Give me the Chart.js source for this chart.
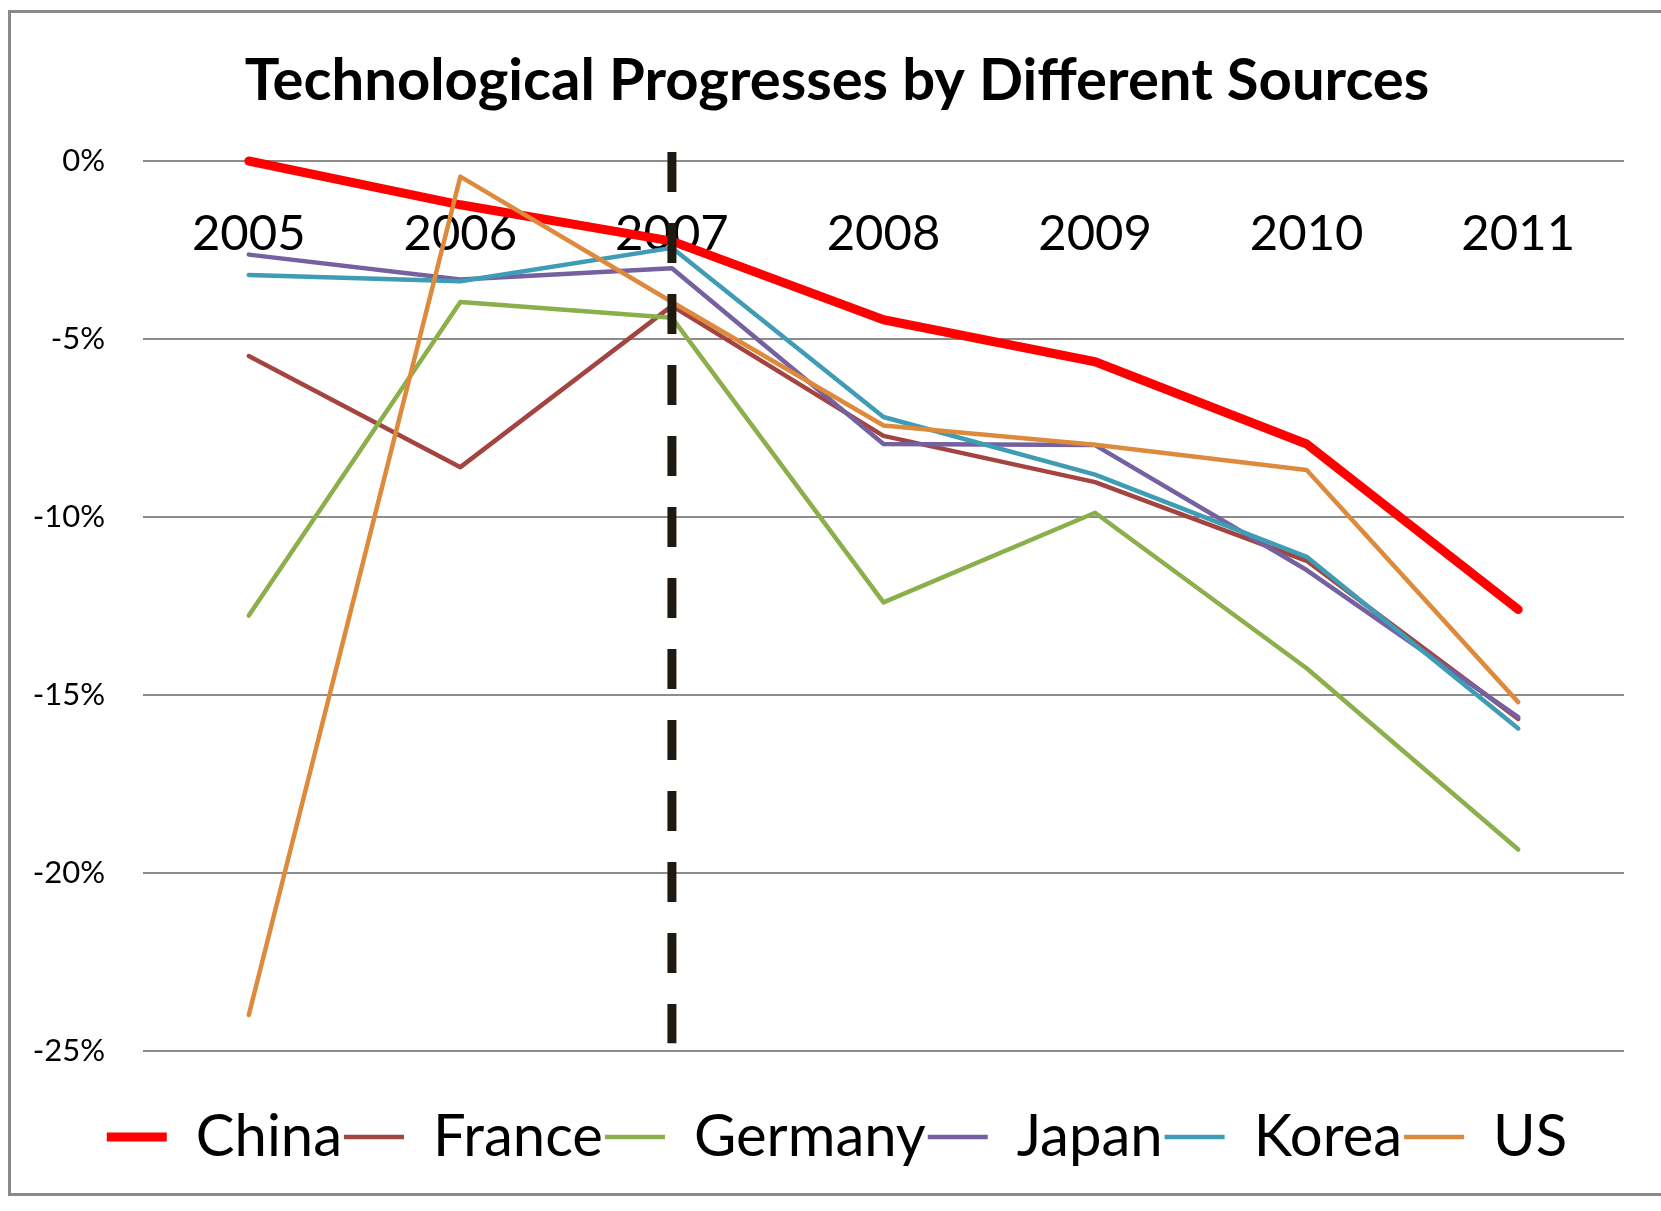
<!DOCTYPE html>
<html>
<head>
<meta charset="utf-8">
<script src="https://cdn.jsdelivr.net/npm/chart.js@4/dist/chart.umd.min.js"></script>
<style>
  body { margin: 0; background: #fff; }
  #wrap { position: relative; width: 1661px; height: 1211px; overflow: hidden; }
  #frame { position: absolute; left: 8px; top: 10px; width: 1700px; height: 1186px; border: 3px solid #8a8a8a; box-sizing: border-box; }
  canvas { position: absolute; left: 0; top: 0; }
</style>
</head>
<body>
<div id="wrap">
  <div id="frame"></div>
  <canvas id="chart" width="1661" height="1211"></canvas>
</div>
<script>
const years = ["2005", "2006", "2007", "2008", "2009", "2010", "2011"];

const china = [0, -1.23, -2.25, -4.46, -5.64, -7.95, -12.6];
const france = [-5.48, -8.6, -4.07, -7.72, -9.02, -11.23, -15.67];
const germany = [-12.77, -3.96, -4.4, -12.4, -9.88, -14.25, -19.34];
const japan = [-2.63, -3.33, -3.01, -7.95, -7.98, -11.49, -15.62];
const korea = [-3.2, -3.38, -2.44, -7.19, -8.81, -11.12, -15.94];
const us = [-23.99, -0.44, -3.96, -7.43, -7.97, -8.68, -15.2];

const yTicks = [0, -5, -10, -15, -20, -25];

// dashed marker at 2007 (top and bottom, in %)
const markerYear = "2007";
const markerRange = [0.25, -24.78];

const FONT = "Lato, 'Open Sans', sans-serif";

const series = [
  { label: "China", data: china, color: "#ff0000", width: 9, order: 2 },
  { label: "France", data: france, color: "#a44440", width: 4.5, order: 6 },
  { label: "Germany", data: germany, color: "#8baf4b", width: 4.5, order: 5 },
  { label: "Japan", data: japan, color: "#7560a0", width: 4.5, order: 4 },
  { label: "Korea", data: korea, color: "#3e9cb5", width: 4.5, order: 3 },
  { label: "US", data: us, color: "#dd8a3c", width: 4.5, order: 1 },
];

const markerPlugin = {
  id: "marker",
  afterLayout(chart) {
    // title and legend are centred a bit right of the canvas middle
    chart.titleBlock.left = 50;
    chart.legend.left = 50;
  },
  afterDraw(chart) {
    const x = chart.scales.x.getPixelForValue(years.indexOf(markerYear));
    const y = chart.scales.y;
    const ctx = chart.ctx;
    ctx.save();
    ctx.strokeStyle = "#1e1a12";
    ctx.lineWidth = 9;
    ctx.setLineDash([40, 31]);
    ctx.beginPath();
    ctx.moveTo(x, y.getPixelForValue(markerRange[0]));
    ctx.lineTo(x, y.getPixelForValue(markerRange[1]));
    ctx.stroke();
    ctx.restore();
  },
};

new Chart(document.getElementById("chart"), {
  type: "line",
  data: {
    labels: years,
    datasets: series.map((s) => ({
      label: s.label,
      data: s.data,
      borderColor: s.color,
      backgroundColor: s.color,
      borderWidth: s.width,
      borderCapStyle: "round",
      borderJoinStyle: "round",
      pointRadius: 0,
      tension: 0,
      clip: false,
      order: s.order,
    })),
  },
  options: {
    responsive: false,
    animation: false,
    layout: { padding: { top: 0, left: 0, right: 37, bottom: 35 } },
    plugins: {
      tooltip: { enabled: false },
      title: {
        display: true,
        text: "Technological Progresses by Different Sources",
        color: "#000",
        font: { family: FONT, size: 58, weight: "bold", lineHeight: 1.2 },
        padding: { top: 46, bottom: 45.4 },
      },
      legend: {
        position: "bottom",
        title: { display: true, text: " ", font: { size: 1, lineHeight: 1 }, padding: { top: 54, bottom: 0 } },
        labels: {
          color: "#000",
          font: { family: FONT, size: 58 },
          usePointStyle: true,
          pointStyle: "line",
          pointStyleWidth: 60,
          padding: 2,
          sort: (a, b) => a.datasetIndex - b.datasetIndex,
        },
      },
    },
    scales: {
      x: {
        position: { y: 0 },
        offset: true,
        z: 1,
        grid: { display: false, drawTicks: false },
        border: { display: false },
        ticks: { color: "#000", font: { family: FONT, size: 49 }, padding: 44, maxRotation: 0 },
      },
      y: {
        min: -25,
        max: 0,
        afterFit: (s) => { s.width = 143; },
        afterBuildTicks: (s) => { s.ticks = yTicks.map((v) => ({ value: v })); },
        grid: { color: "#8c8c8c", lineWidth: 2, drawTicks: false },
        border: { display: false },
        ticks: {
          color: "#000",
          font: { family: FONT, size: 31 },
          padding: 38,
          callback: (v) => v + "%",
        },
      },
    },
  },
  plugins: [markerPlugin],
});
</script>
</body>
</html>
